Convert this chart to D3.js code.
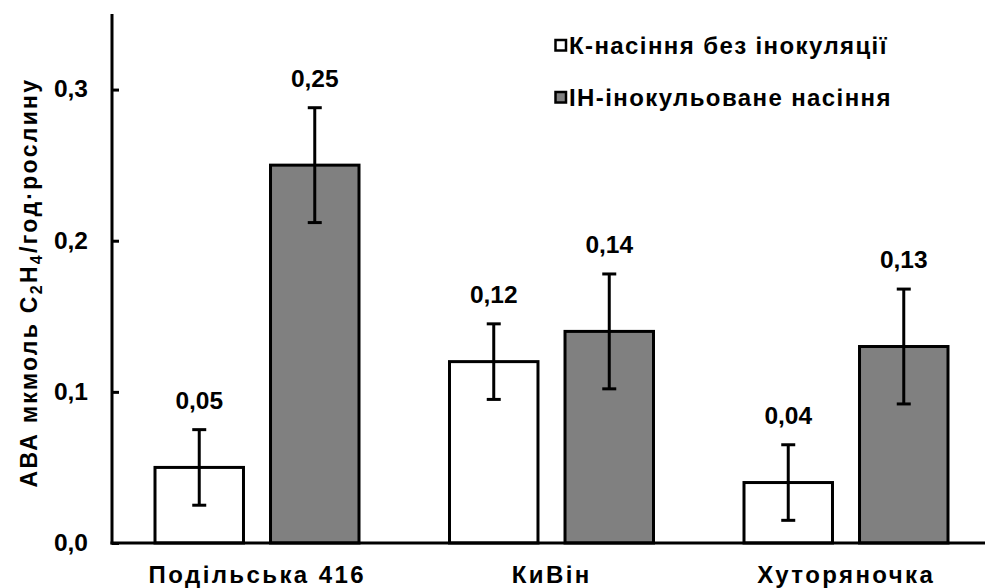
<!DOCTYPE html>
<html>
<head>
<meta charset="utf-8">
<script src="https://cdn.jsdelivr.net/npm/d3@7"></script>
<style>
  html, body { margin: 0; padding: 0; background: #fff; }
  svg { display: block; font-family: "Liberation Sans", Arial, sans-serif; font-weight: bold; }
</style>
</head>
<body>
<svg id="chart" width="985" height="588"></svg>
<script>
const categories = ["Подільська 416", "КиВін", "Хуторяночка"];
const seriesNames = ["К-насіння без інокуляції", "ІН-інокульоване насіння"];
const controlValues = [0.05, 0.12, 0.04];
const inoculatedValues = [0.25, 0.14, 0.13];
const controlErrors = [0.025, 0.025, 0.025];
const inoculatedErrors = [0.038, 0.038, 0.038];
const valueLabels = [["0,05", "0,12", "0,04"], ["0,25", "0,14", "0,13"]];
const yTicks = [0, 0.1, 0.2, 0.3];
const yTickLabels = ["0,0", "0,1", "0,2", "0,3"];

const svg = d3.select("#chart");
const fills = ["#ffffff", "#808080"];
const FONT = "Liberation Sans, Arial, sans-serif";

const x = d3.scaleBand().domain(categories).range([110, 993.5]).padding(0);
const xs = d3.scaleBand().domain(seriesNames).range([45, 249]).paddingInner(0.234).paddingOuter(0);
const y = d3.scaleLinear().domain([0, 0.35]).range([543, 14]);

const valuesBySeries = [controlValues, inoculatedValues];
const errorsBySeries = [controlErrors, inoculatedErrors];

const data = [];
seriesNames.forEach((s, si) => {
  categories.forEach((c, ci) => {
    data.push({ s, si, c, v: valuesBySeries[si][ci], e: errorsBySeries[si][ci], label: valueLabels[si][ci] });
  });
});

// bars
svg.append("g").selectAll("rect").data(data).join("rect")
  .attr("x", d => x(d.c) + xs(d.s))
  .attr("y", d => y(d.v))
  .attr("width", xs.bandwidth())
  .attr("height", d => y(0) - y(d.v))
  .attr("fill", d => fills[d.si])
  .attr("stroke", "#000")
  .attr("stroke-width", 3);

// error bars
const eb = svg.append("g").attr("stroke", "#000").attr("stroke-width", 3);
data.forEach(d => {
  const cx = x(d.c) + xs(d.s) + xs.bandwidth() / 2;
  eb.append("line").attr("x1", cx).attr("x2", cx).attr("y1", y(d.v + d.e)).attr("y2", y(d.v - d.e));
  eb.append("line").attr("x1", cx - 7).attr("x2", cx + 7).attr("y1", y(d.v + d.e)).attr("y2", y(d.v + d.e));
  eb.append("line").attr("x1", cx - 7).attr("x2", cx + 7).attr("y1", y(d.v - d.e)).attr("y2", y(d.v - d.e));
});

// value labels
svg.append("g").selectAll("text").data(data).join("text")
  .attr("x", d => x(d.c) + xs(d.s) + xs.bandwidth() / 2)
  .attr("y", d => y(d.v + d.e) - 21)
  .attr("text-anchor", "middle")
  .attr("font-size", 24.5)
  .attr("fill", "#000")
  .text(d => d.label);

// y axis
const yAxis = d3.axisLeft(y).tickValues(yTicks).tickSize(-7).tickPadding(24)
  .tickFormat((d, i) => yTickLabels[i]);
const gy = svg.append("g").attr("transform", "translate(112,0)").call(yAxis);
gy.select(".domain").remove();
gy.selectAll(".tick line").attr("stroke", "#000").attr("stroke-width", 3);
gy.selectAll(".tick text").attr("font-size", 24.5).attr("font-family", FONT)
  .attr("font-weight", "bold").attr("fill", "#000").attr("dy", "0.3em");
svg.append("line").attr("x1", 112).attr("x2", 112).attr("y1", y(0.35)).attr("y2", y(0) + 1.5)
  .attr("stroke", "#000").attr("stroke-width", 3);

// x axis
const xAxis = d3.axisBottom(x).tickSize(0);
const gx = svg.append("g").attr("transform", `translate(0,${y(0)})`).call(xAxis);
gx.select(".domain").remove();
gx.selectAll(".tick text").attr("y", 40).attr("dy", 0).attr("font-size", 24)
  .attr("letter-spacing", 2.4)
  .attr("font-family", FONT).attr("font-weight", "bold").attr("fill", "#000");
svg.append("line").attr("x1", 110.5).attr("x2", 985).attr("y1", y(0)).attr("y2", y(0))
  .attr("stroke", "#000").attr("stroke-width", 3);

// y title
const title = svg.append("text")
  .attr("transform", `translate(37,${(y(0) + y(0.35)) / 2 + 4}) rotate(-90)`)
  .attr("text-anchor", "middle")
  .attr("font-size", 23)
  .attr("letter-spacing", 2.3)
  .attr("fill", "#000");
title.append("tspan").text("АВА мкмоль C");
title.append("tspan").attr("font-size", 16).attr("dy", 5).text("2");
title.append("tspan").attr("dy", -5).text("H");
title.append("tspan").attr("font-size", 16).attr("dy", 5).text("4");
title.append("tspan").attr("dy", -5).text("/год·рослину");

// legend
const legend = svg.append("g");
seriesNames.forEach((s, i) => {
  const ly = 45.5 + i * 52;
  legend.append("rect").attr("x", 555.5).attr("y", ly - 5.5).attr("width", 10.5).attr("height", 10.5)
    .attr("fill", fills[i]).attr("stroke", "#000").attr("stroke-width", 2.5);
  legend.append("text").attr("x", 569).attr("y", ly).attr("dy", "0.36em")
    .attr("font-size", 24).attr("letter-spacing", 1.4).attr("fill", "#000").text(s);
});
</script>
</body>
</html>
